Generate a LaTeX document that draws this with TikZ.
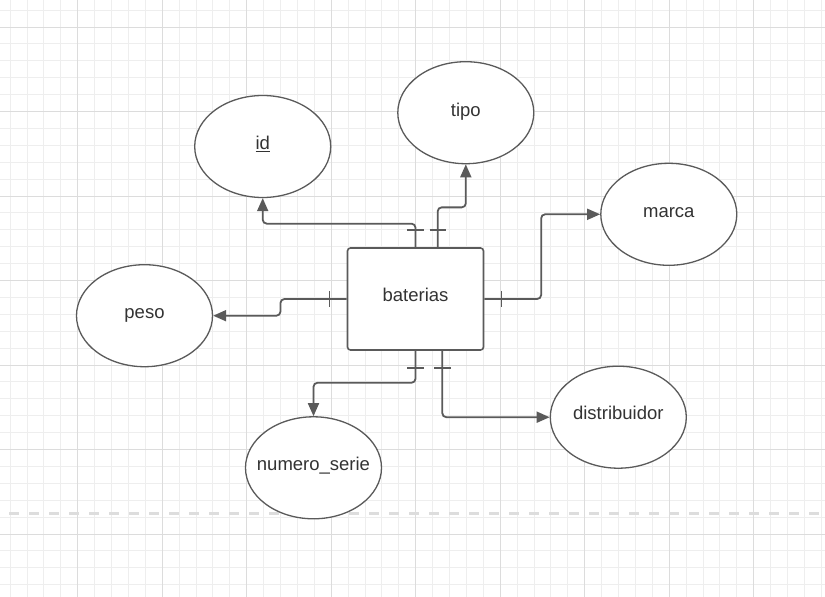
\documentclass[tikz,border=0pt]{standalone}
\usepackage{fontspec}
\setmainfont{Liberation Sans}
\usetikzlibrary{arrows.meta,calc,shapes.geometric}
\definecolor{gridminor}{HTML}{EEEEEE}
\definecolor{gridmajor}{HTML}{DCDCDC}
\definecolor{dashcol}{HTML}{DDDDDD}
\definecolor{linecol}{HTML}{5A5A5A}
\definecolor{txtcol}{HTML}{333333}
\tikzset{
  minorline/.style={draw=gridminor, line width=1pt},
  majorline/.style={draw=gridmajor, line width=1pt},
  attr/.style={draw=linecol, ellipse, line width=1.3pt, fill=white, minimum width=136pt, minimum height=102pt, inner sep=0pt},
  entity/.style={draw=linecol, rectangle, rounded corners=3pt, line width=1.6pt, fill=white, minimum width=136pt, minimum height=102pt, inner sep=0pt},
  lbl/.style={text=txtcol, font=\fontsize{18.5}{22}\selectfont, inner sep=0pt, anchor=base},
  conn/.style={draw=linecol, line width=1.8pt, rounded corners=4pt, -{Triangle[length=13pt,width=11pt]}},
  onetick/.style={draw=linecol, line width=1.4pt},
}
\begin{document}
\begin{tikzpicture}[x=1pt,y=-1pt]
\useasboundingbox (0,0) rectangle (825,597);
\fill[white] (0,0) rectangle (825,597);
% grid
\foreach \i in {-4,...,44} {\draw[minorline] ({77.7+16.9*\i},0) -- ({77.7+16.9*\i},597);}
\foreach \i in {-1,...,34} {\draw[minorline] (0,{27+16.9*\i}) -- (825,{27+16.9*\i});}
\foreach \i in {0,...,8} {\draw[majorline] ({77.7+84.5*\i},0) -- ({77.7+84.5*\i},597);}
\foreach \i in {0,...,6} {\draw[majorline] (0,{27+84.5*\i}) -- (825,{27+84.5*\i});}
\draw[dashcol, line width=3pt, dash pattern=on 10pt off 10pt] (9,513.5) -- (820,513.5);

% nodes
\node[entity] (bat) at (415.5,299) {};
\node[lbl] (batl) at (415.5,301) {baterias};
\node[attr] (id) at (262.7,146.5) {};
\node[lbl] (idl) at (262.7,149.8) {\underline{id}};
\node[attr] (tipo) at (465.8,112.7) {};
\node[lbl] (tipol) at (465.8,116) {tipo};
\node[attr] (marca) at (668.8,214.3) {};
\node[lbl] (marcal) at (668.8,217) {marca};
\node[attr] (peso) at (144.5,315.7) {};
\node[lbl] (pesol) at (144.5,318.5) {peso};
\node[attr] (num) at (313.5,467.8) {};
\node[lbl] (numl) at (313.5,470.5) {numero\_serie};
\node[attr] (dist) at (618.3,417.2) {};
\node[lbl] (distl) at (618.3,419.5) {distribuidor};

% connectors
\draw[conn] (bat.north) |- ($(id.south)+(0,25.5)$) -- (id.south);
\draw[conn] ([xshift=22.2pt]bat.north) |- ($(tipo.south)+(0,43)$) -- (tipo.south);
\draw[conn] (bat.east) -| ($(marca.west)+(-59,0)$) -- (marca.west);
\draw[conn] (bat.west) -| ($(peso.east)+(67.3,0)$) -- (peso.east);
\draw[conn] (bat.south) |- ($(num.north)+(0,-33.4)$) -- (num.north);
\draw[conn] ([xshift=26.8pt]bat.south) |- (dist.west);

% one-ticks
\draw[onetick] ([shift={(-8.5,-17.3)}]bat.north) -- ++(17,0);
\draw[onetick] ([shift={(14,-17.3)}]bat.north) -- ++(16,0);
\draw[onetick] ([shift={(17.2,-8.2)}]bat.east) -- ++(0,16.4);
\draw[onetick] ([shift={(-17.5,-8.2)}]bat.west) -- ++(0,16.4);
\draw[onetick] ([shift={(-8.5,17.3)}]bat.south) -- ++(17,0);
\draw[onetick] ([shift={(18.5,17.3)}]bat.south) -- ++(16.7,0);
\end{tikzpicture}
\end{document}
